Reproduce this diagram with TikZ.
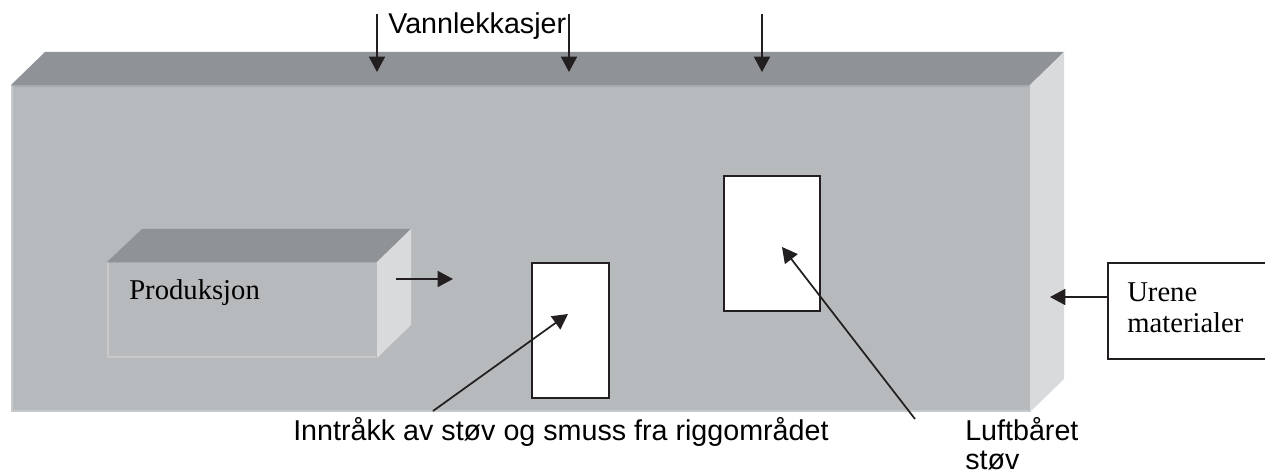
\documentclass[tikz,border=0pt]{standalone}
\usepackage{fontspec}
\setmainfont{Liberation Serif}
\newfontfamily\arialfont{Liberation Sans}
\usetikzlibrary{arrows.meta}
\definecolor{frontgray}{HTML}{B7BABD}
\definecolor{topgray}{HTML}{8F9296}
\definecolor{sidegray}{HTML}{D8DADC}
\definecolor{rimlight}{HTML}{C7C9CB}
\definecolor{rimdark}{HTML}{A8ABAE}
\definecolor{ink}{HTML}{231F20}
\begin{document}
\begin{tikzpicture}[x=0.75pt,y=-0.75pt,
  flow/.style={draw=ink,line width=1.3pt,-{Triangle[length=11.5pt,width=12pt]}},
  hole/.style={draw=ink,fill=white,line width=1.3pt,inner sep=0pt,anchor=north west},
  sanslabel/.style={font=\arialfont\fontsize{21.5}{25}\selectfont,inner sep=0pt,anchor=base west,text=black},
  seriflabel/.style={font=\fontsize{21.5}{25}\selectfont,inner sep=0pt,anchor=base west,text=black}]
\useasboundingbox (0,0) rectangle (1265,474);
\clip (0,0) rectangle (1265,474);

% large block: top, side and front faces
\fill[topgray] (11,85) -- (45,52) -- (1064,52) -- (1030,85) -- cycle;
\fill[sidegray] (1030,85) -- (1064,52) -- (1064,379) -- (1030,412) -- cycle;
\fill[frontgray] (11,85) rectangle (1030,412);
\draw[rimdark,line width=1.5pt] (12,86) -- (1029,86);
\draw[rimlight,line width=1.5pt] (12,86) -- (12,411) -- (1029,411);

% production block
\fill[topgray] (107,262) -- (142,229) -- (411,229) -- (377,262) -- cycle;
\fill[sidegray] (377,262) -- (411,229) -- (411,325) -- (377,358) -- cycle;
\fill[frontgray] (107,262) rectangle (377,358);
\draw[rimlight,line width=1.5pt] (108,262) -- (108,357) -- (376,357);
\draw[rimdark,line width=1pt] (108,262.5) -- (376,262.5);
\node[seriflabel] (prod) at (129,300) {Produksjon};

% openings
\node[hole,minimum width=77*0.75pt,minimum height=135*0.75pt] (lowhole) at (531,262) {};
\node[hole,minimum width=96*0.75pt,minimum height=135*0.75pt] (highhole) at (723,175) {};

% source box on the right
\node[draw=ink,line width=1.3pt,fill=white,inner sep=0pt,anchor=north west,
      minimum width=170*0.75pt,minimum height=96*0.75pt] (urene) at (1107,262) {};
\node[seriflabel] (urene1) at (1127,301) {Urene};
\node[seriflabel] (urene2) at (1127,333) {materialer};

% labels
\node[sanslabel] (vann) at (388,34) {Vannlekkasjer};
\node[sanslabel] (inntr) at (293,440) {Inntråkk av støv og smuss fra riggområdet};
\node[sanslabel] (luft1) at (965,440) {Luftbåret};
\node[sanslabel] (luft2) at (965,469) {støv};

% arrow ends
\coordinate (w1a) at (377,14); \coordinate (w1b) at (377,72);
\coordinate (w2a) at (569,14); \coordinate (w2b) at (569,72);
\coordinate (w3a) at (762,14); \coordinate (w3b) at (762,72);
\coordinate (pa) at (396,279); \coordinate (pb) at (453,279);
\coordinate (ua) at (urene.west |- 0,297); \coordinate (ub) at (1050,297);
\coordinate (ia) at (433,411); \coordinate (ib) at (568,314);
\coordinate (la) at (915,419); \coordinate (lb) at (782,247);

% arrows
\draw[flow] (w1a) -- (w1b);
\draw[flow] (w2a) -- (w2b);
\draw[flow] (w3a) -- (w3b);
\draw[flow] (pa) -- (pb);
\draw[flow] (ua) -- (ub);
\draw[flow] (ia) -- (ib);
\draw[flow] (la) -- (lb);
\end{tikzpicture}
\end{document}
